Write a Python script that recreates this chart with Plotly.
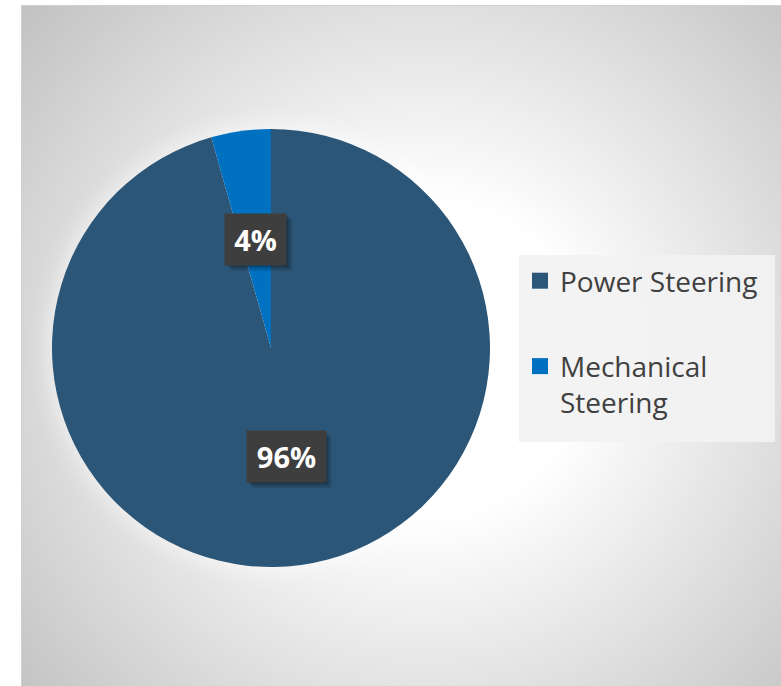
import base64
import math
import plotly.graph_objects as go

# ---------------- data ----------------
categories = ["Power Steering", "Mechanical Steering"]
legend_text = ["Power Steering", "Mechanical<br>Steering"]
values = [95.6, 4.4]
pct_labels = ["96%", "4%"]

# ---------------- style ----------------
colors = ["#2C5678", "#0070C0"]
W, H = 781, 686
FONT = "Open Sans"

# chart area (px)
area_x0, area_y0 = 21, 5
# pie domain (px)
pie_x0, pie_x1, pie_y0, pie_y1 = 52, 490, 129, 567
cx = (pie_x0 + pie_x1) / 2
cy = (pie_y0 + pie_y1) / 2
R = min(pie_x1 - pie_x0, pie_y1 - pie_y0) / 2
# legend box (px)
leg_x0, leg_x1, leg_y0, leg_y1 = 519, 775, 255, 442

# radial gradient background as svg image
aw, ah = W - area_x0, H - area_y0
svg = f'''<svg xmlns="http://www.w3.org/2000/svg" width="{aw}" height="{ah}" viewBox="0 0 {aw} {ah}" preserveAspectRatio="none">
<defs>
<radialGradient id="g" gradientUnits="userSpaceOnUse" cx="{aw*0.53:.1f}" cy="{ah*0.52:.1f}" r="{aw*0.69:.1f}">
<stop offset="0" stop-color="#ffffff"/>
<stop offset="0.30" stop-color="#ffffff"/>
<stop offset="1" stop-color="#c3c3c3"/>
</radialGradient>
<filter id="b" x="-20%" y="-20%" width="140%" height="140%"><feGaussianBlur stdDeviation="9"/></filter>
</defs>
<rect x="0" y="0" width="{aw}" height="{ah}" fill="url(#g)"/>
<circle cx="{cx-area_x0}" cy="{cy-area_y0}" r="{R+6}" fill="#ffffff" fill-opacity="0.45" filter="url(#b)"/>
</svg>'''
svg_uri = "data:image/svg+xml;base64," + base64.b64encode(svg.encode()).decode()

fig = go.Figure()

fig.add_trace(go.Pie(
    labels=categories,
    values=values,
    marker=dict(colors=colors, line=dict(width=0)),
    sort=False,
    direction="clockwise",
    rotation=0,
    textinfo="none",
    hoverinfo="label+percent",
    showlegend=False,
    domain=dict(x=[pie_x0 / W, pie_x1 / W], y=[1 - pie_y1 / H, 1 - pie_y0 / H]),
))

# legend entries (square markers) with generous spacing
for name, txt, col in zip(categories, legend_text, colors):
    fig.add_trace(go.Scatter(
        x=[None], y=[None], mode="markers", name=txt,
        legendgroup=name,
        marker=dict(symbol="square", size=16, color=col),
        hoverinfo="skip",
    ))

# data labels at mid-angle, half radius
total = sum(values)
start = 0
label_widths = {"96%": 67, "4%": 49}
box_h = 39
pad = 6
annotations = []
shapes = [dict(type="rect", xref="paper", yref="paper",
               x0=leg_x0 / W, x1=leg_x1 / W, y0=1 - leg_y1 / H, y1=1 - leg_y0 / H,
               line=dict(width=0), fillcolor="rgba(242,242,242,0.92)", layer="below")]
for v, lab in zip(values, pct_labels):
    mid = start + v / 2
    th = 2 * math.pi * mid / total
    px = cx + 0.5 * R * math.sin(th)
    py = cy - 0.5 * R * math.cos(th)
    start += v
    bw = label_widths[lab] + 2 * pad
    bh = box_h + 2 * pad
    # soft drop shadow
    for k, a in [(6, 0.10), (4, 0.14), (2, 0.16)]:
        shapes.append(dict(type="rect", xref="paper", yref="paper",
                           x0=(px - bw / 2 + k) / W, x1=(px + bw / 2 + k) / W,
                           y0=1 - (py + bh / 2 + k) / H, y1=1 - (py - bh / 2 + k) / H,
                           line=dict(width=0), fillcolor=f"rgba(0,0,0,{a})", layer="above"))
    annotations.append(dict(x=px / W, y=1 - py / H, xref="paper", yref="paper",
                            xanchor="center", yanchor="middle",
                            showarrow=False, text=lab, borderpad=pad,
                            width=label_widths[lab], height=box_h,
                            bgcolor="#3e3e3e",
                            font=dict(family=FONT, size=29, color="white", weight="bold")))

shapes.append(dict(type="rect", xref="paper", yref="paper",
                   x0=(area_x0 + 0.5) / W, x1=1.05, y0=-0.05, y1=1 - (area_y0 + 0.5) / H,
                   line=dict(color="#cfcfcf", width=1), layer="above"))

fig.update_layout(
    width=W, height=H,
    margin=dict(l=0, r=0, t=0, b=0),
    paper_bgcolor="white",
    plot_bgcolor="rgba(0,0,0,0)",
    xaxis=dict(visible=False),
    yaxis=dict(visible=False),
    images=[dict(source=svg_uri, xref="paper", yref="paper",
                 x=area_x0 / W, y=1 - area_y0 / H,
                 sizex=aw / W, sizey=ah / H, sizing="stretch",
                 xanchor="left", yanchor="top", layer="below")],
    shapes=shapes,
    annotations=annotations,
    legend=dict(
        x=(leg_x0 + 1) / W, y=1 - (leg_y0 + 1) / H, xanchor="left", yanchor="top",
        bgcolor="rgba(0,0,0,0)",
        font=dict(family=FONT, size=28, color="#404040"),
        tracegroupgap=46, valign="top", traceorder="grouped",
        itemclick=False, itemdoubleclick=False,
    ),
    showlegend=True,
)

fig.write_html("out.html", post_script="document.body.style.margin='0';",
               config={"displayModeBar": False})
